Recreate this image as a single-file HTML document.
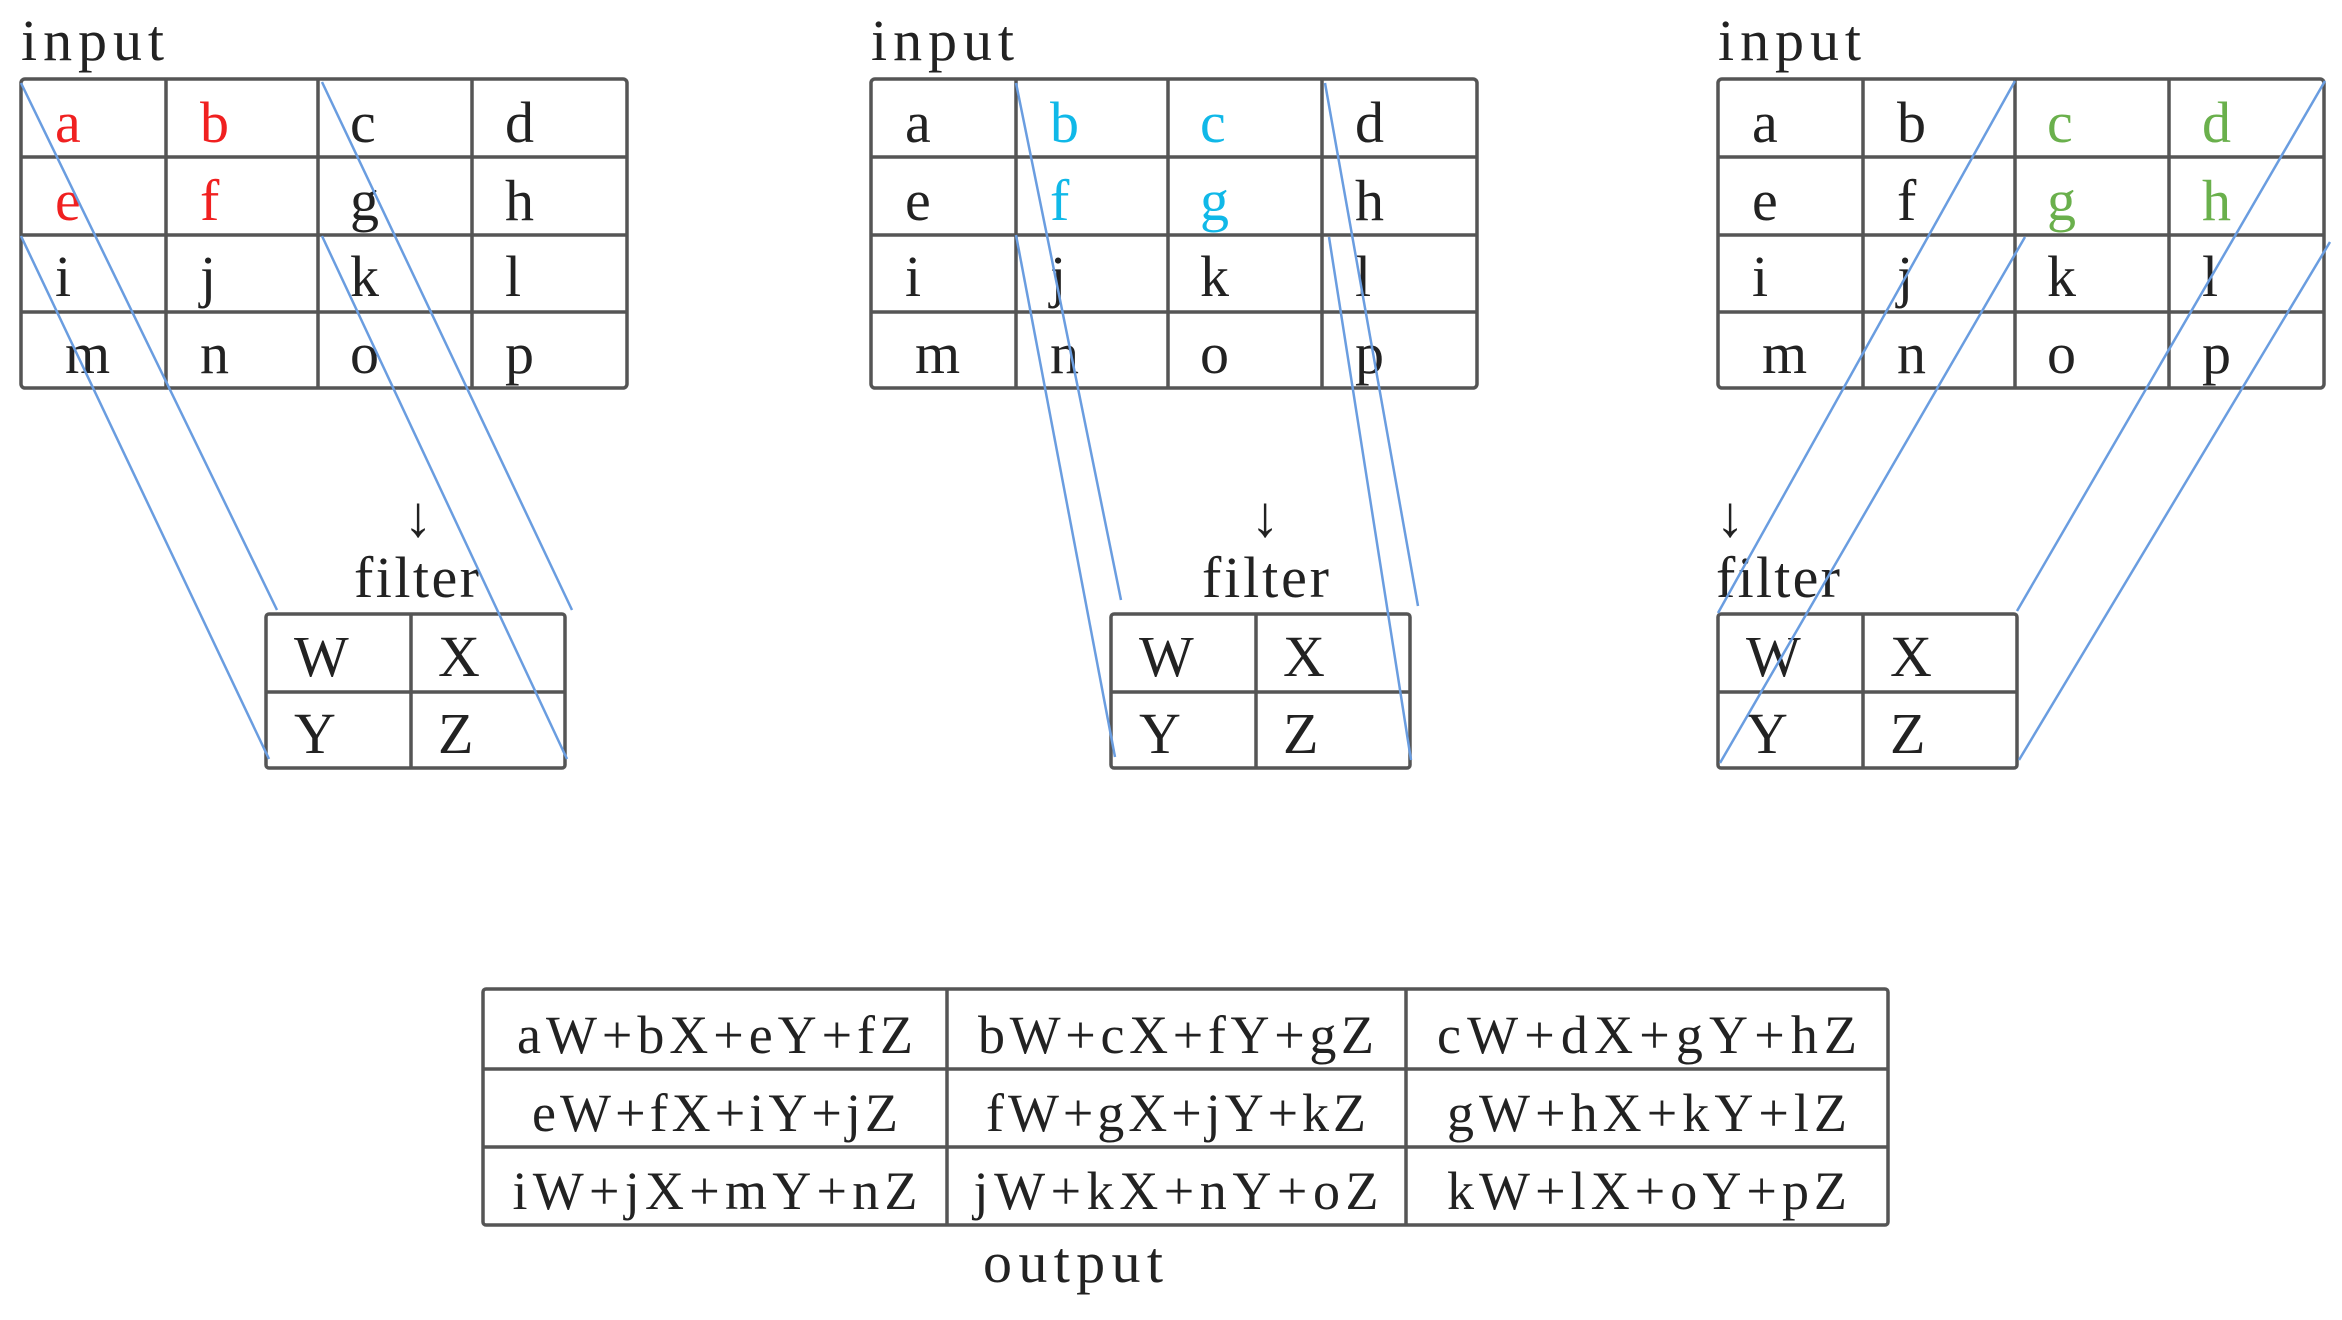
<!DOCTYPE html>
<html><head><meta charset="utf-8"><style>html,body{margin:0;padding:0;background:#fff}svg{display:block}</style></head>
<body>
<svg width="2342" height="1320" viewBox="0 0 2342 1320" xmlns="http://www.w3.org/2000/svg" font-family="'Liberation Serif', serif" fill="#222">
<defs>
<g id="grid" fill="none" stroke="#555" stroke-width="3.5">
<rect x="0" y="0" width="606" height="309" rx="4"/>
<line x1="145" y1="0" x2="145" y2="309"/><line x1="297" y1="0" x2="297" y2="309"/><line x1="451" y1="0" x2="451" y2="309"/>
<line x1="0" y1="78" x2="606" y2="78"/><line x1="0" y1="156" x2="606" y2="156"/><line x1="0" y1="233" x2="606" y2="233"/>
</g>
<g id="filt" fill="none" stroke="#555" stroke-width="3.5">
<rect x="0" y="0" width="299" height="154" rx="3"/>
<line x1="145" y1="0" x2="145" y2="154"/><line x1="0" y1="78" x2="299" y2="78"/>
</g>
</defs>
<style>.t{font-size:58px}.o{font-size:54px}</style>

<!-- Panel 1 -->
<text x="21" y="60" class="t" textLength="143">input</text>
<use href="#grid" x="21" y="79"/>
<g class="t">
<text x="55" y="142" fill="#f02020">a</text><text x="200" y="142" fill="#f02020">b</text><text x="350" y="142">c</text><text x="505" y="142">d</text>
<text x="55" y="220" fill="#f02020">e</text><text x="200" y="220" fill="#f02020">f</text><text x="350" y="220">g</text><text x="505" y="220">h</text>
<text x="55" y="296">i</text><text x="200" y="296">j</text><text x="350" y="296">k</text><text x="505" y="296">l</text>
<text x="65" y="373">m</text><text x="200" y="373">n</text><text x="350" y="373">o</text><text x="505" y="373">p</text>
</g>
<text x="418" y="536" class="t" text-anchor="middle">↓</text>
<text x="354" y="597" class="t" textLength="125">filter</text>
<use href="#filt" x="266" y="614"/>
<g class="t"><text x="294" y="676">W</text><text x="438" y="676">X</text><text x="294" y="753">Y</text><text x="438" y="753">Z</text></g>
<g stroke="#6a9de0" stroke-width="2.5">
<line x1="21" y1="83" x2="277" y2="610"/><line x1="21" y1="236" x2="269" y2="759"/>
<line x1="322" y1="82" x2="572" y2="610"/><line x1="322" y1="236" x2="567" y2="759"/>
</g>

<!-- Panel 2 -->
<text x="871" y="60" class="t" textLength="143">input</text>
<use href="#grid" x="871" y="79"/>
<g class="t">
<text x="905" y="142">a</text><text x="1050" y="142" fill="#10b8e8">b</text><text x="1200" y="142" fill="#10b8e8">c</text><text x="1355" y="142">d</text>
<text x="905" y="220">e</text><text x="1050" y="220" fill="#10b8e8">f</text><text x="1200" y="220" fill="#10b8e8">g</text><text x="1355" y="220">h</text>
<text x="905" y="296">i</text><text x="1050" y="296">j</text><text x="1200" y="296">k</text><text x="1355" y="296">l</text>
<text x="915" y="373">m</text><text x="1050" y="373">n</text><text x="1200" y="373">o</text><text x="1355" y="373">p</text>
</g>
<text x="1265" y="536" class="t" text-anchor="middle">↓</text>
<text x="1202" y="597" class="t" textLength="127">filter</text>
<use href="#filt" x="1111" y="614"/>
<g class="t"><text x="1139" y="676">W</text><text x="1283" y="676">X</text><text x="1139" y="753">Y</text><text x="1283" y="753">Z</text></g>
<g stroke="#6a9de0" stroke-width="2.5">
<line x1="1016" y1="83" x2="1121" y2="600"/><line x1="1016" y1="235" x2="1115" y2="757"/>
<line x1="1325" y1="83" x2="1418" y2="606"/><line x1="1329" y1="237" x2="1411" y2="760"/>
</g>

<!-- Panel 3 -->
<text x="1718" y="60" class="t" textLength="143">input</text>
<use href="#grid" x="1718" y="79"/>
<g class="t">
<text x="1752" y="142">a</text><text x="1897" y="142">b</text><text x="2047" y="142" fill="#6ab04c">c</text><text x="2202" y="142" fill="#6ab04c">d</text>
<text x="1752" y="220">e</text><text x="1897" y="220">f</text><text x="2047" y="220" fill="#6ab04c">g</text><text x="2202" y="220" fill="#6ab04c">h</text>
<text x="1752" y="296">i</text><text x="1897" y="296">j</text><text x="2047" y="296">k</text><text x="2202" y="296">l</text>
<text x="1762" y="373">m</text><text x="1897" y="373">n</text><text x="2047" y="373">o</text><text x="2202" y="373">p</text>
</g>
<text x="1730" y="536" class="t" text-anchor="middle">↓</text>
<text x="1716" y="597" class="t" textLength="124">filter</text>
<use href="#filt" x="1718" y="614"/>
<g class="t"><text x="1746" y="676">W</text><text x="1890" y="676">X</text><text x="1746" y="753">Y</text><text x="1890" y="753">Z</text></g>
<g stroke="#6a9de0" stroke-width="2.5">
<line x1="2015" y1="81" x2="1718" y2="613"/><line x1="2025" y1="237" x2="1720" y2="763"/>
<line x1="2325" y1="81" x2="2017" y2="611"/><line x1="2330" y1="242" x2="2019" y2="760"/>
</g>

<!-- Output -->
<g fill="none" stroke="#555" stroke-width="3.5">
<rect x="483" y="989" width="1405" height="236" rx="3"/>
<line x1="947" y1="989" x2="947" y2="1225"/><line x1="1406" y1="989" x2="1406" y2="1225"/>
<line x1="483" y1="1069" x2="1888" y2="1069"/><line x1="483" y1="1147" x2="1888" y2="1147"/>
</g>
<g class="o" text-anchor="middle">
<text x="715" y="1053" textLength="396">aW+bX+eY+fZ</text>
<text x="1176" y="1053" textLength="396">bW+cX+fY+gZ</text>
<text x="1647" y="1053" textLength="420">cW+dX+gY+hZ</text>
<text x="715" y="1131" textLength="366">eW+fX+iY+jZ</text>
<text x="1176" y="1131" textLength="380">fW+gX+jY+kZ</text>
<text x="1647" y="1131" textLength="400">gW+hX+kY+lZ</text>
<text x="715" y="1209" textLength="405">iW+jX+mY+nZ</text>
<text x="1176" y="1209" textLength="405">jW+kX+nY+oZ</text>
<text x="1647" y="1209" textLength="400">kW+lX+oY+pZ</text>
</g>
<text x="983" y="1282" class="t" textLength="180">output</text>
</svg>
</body></html>
